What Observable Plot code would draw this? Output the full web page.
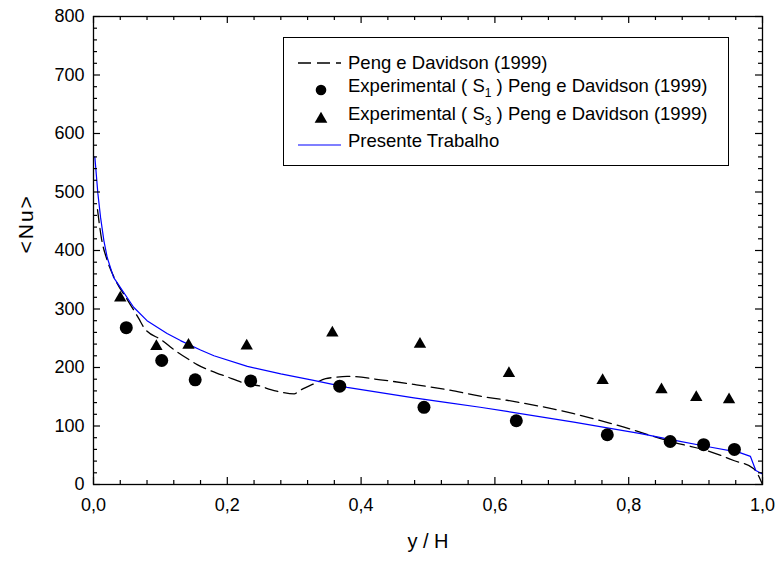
<!DOCTYPE html>
<html><head><meta charset="utf-8">
<script src="https://cdn.jsdelivr.net/npm/d3@7"></script>
<script src="https://cdn.jsdelivr.net/npm/@observablehq/plot@0.6"></script>
<style>
body{margin:0;background:#fff;}
#wrap{position:relative;width:778px;height:563px;font-family:"Liberation Sans",Arial,sans-serif;}
#legend{position:absolute;left:283px;top:37px;width:446px;height:129px;border:1px solid #000;background:#fff;box-sizing:border-box;}
#legend svg{position:absolute;left:0;top:0;}
.item{position:absolute;left:64px;font-size:18.5px;white-space:nowrap;color:#000;line-height:1;}
.item sub{font-size:12px;vertical-align:-5px;line-height:0;}
</style>
</head><body>
<div id="wrap"></div>
<script>
// Experimental S1 (circles)
const s1X = [0.049,0.102,0.152,0.235,0.368,0.494,0.632,0.768,0.862,0.912,0.958];
const s1Y = [268,212,179,177,168,132,109,85,73.5,68,60];
// Experimental S3 (triangles)
const s3X = [0.040,0.094,0.142,0.229,0.357,0.488,0.621,0.761,0.849,0.901,0.950];
const s3Y = [319,236,238,237,259,240,190,178,162,149,145];
// Peng e Davidson (1999) dashed
const pengX = [0.006,0.012,0.02,0.033,0.05,0.068,0.075,0.103,0.115,0.142,0.155,0.185,0.195,0.23,0.25,0.265,0.28,0.30,0.309,0.329,0.347,0.359,0.379,0.429,0.479,0.529,0.578,0.618,0.718,0.793,0.867,0.917,0.957,0.987,1.0];
const pengY = [470,420,385,349,317,283,269,246,235,214,205,190,186,172,168,162,158,155,161,172,181,183,185,179,171,162,151,144,121,98,72,58,41,27,0];
// Presente Trabalho (blue)
const presX = [0.002,0.0065,0.0105,0.0155,0.0205,0.030,0.060,0.080,0.110,0.130,0.16,0.180,0.230,0.280,0.329,0.379,0.429,0.479,0.529,0.578,0.618,0.718,0.818,0.867,0.917,0.965,0.982,0.990,1.0];
const presY = [560,498,457,417,388,354,303,280,258,246,230,220,202,189,178,166,157,148,140,132,125,106.5,87,76,65,55,48,24,18];
// ticks
const xMajor = [0,0.2,0.4,0.6,0.8,1.0];
const xMinor = [0.04,0.08,0.12,0.16,0.24,0.28,0.32,0.36,0.44,0.48,0.52,0.56,0.64,0.68,0.72,0.76,0.84,0.88,0.92,0.96];
const yMajor = [0,100,200,300,400,500,600,700,800];
const yMinor = d3.range(0,801,20).filter(v => v % 100 !== 0);

const s1 = s1X.map((x,i)=>({x, y:s1Y[i]}));
const s3 = s3X.map((x,i)=>({x, y:s3Y[i]}));
const peng = pengX.map((x,i)=>({x, y:pengY[i]}));
const pres = presX.map((x,i)=>({x, y:presY[i]}));

const fmt = d => d.toFixed(1).replace(".", ",");

const W = 778, H = 563, ML = 93, MR = 16, MT = 16, MB = 79;
const FW = W - ML - MR, FH = H - MT - MB;
const major = 7, minor = 4;
const tks = {stroke:"#000", strokeWidth:1.2};

const chart = Plot.plot({
  width: W, height: H,
  marginLeft: ML, marginRight: MR, marginTop: MT, marginBottom: MB,
  style: {fontFamily: '"Liberation Sans", Arial, sans-serif', fontSize: "18px", color: "#000", background: "#fff"},
  x: {domain: [0,1]},
  y: {domain: [0,800]},
  marks: [
    Plot.line(peng, {x:"x", y:"y", stroke:"#000", strokeWidth:1.3, strokeDasharray:"13,6", curve:"monotone-x"}),
    Plot.line(pres, {x:"x", y:"y", stroke:"#0000ff", strokeWidth:1.2}),
    Plot.dot(s1, {x:"x", y:"y", r:6.5, fill:"#000", stroke:"none"}),
    Plot.dot(s3, {x:"x", y:"y", r:4.6, symbol:"triangle", fill:"#000", stroke:"none"}),
    // inward ticks
    Plot.tickX(xMajor, {x:d=>d, insetTop:FH-major, ...tks}),
    Plot.tickX(xMinor, {x:d=>d, insetTop:FH-minor, ...tks}),
    Plot.tickX(xMajor, {x:d=>d, insetBottom:FH-major, ...tks}),
    Plot.tickX(xMinor, {x:d=>d, insetBottom:FH-minor, ...tks}),
    Plot.tickY(yMajor, {y:d=>d, insetRight:FW-major, ...tks}),
    Plot.tickY(yMinor, {y:d=>d, insetRight:FW-minor, ...tks}),
    Plot.tickY(yMajor, {y:d=>d, insetLeft:FW-major, ...tks}),
    Plot.tickY(yMinor, {y:d=>d, insetLeft:FW-minor, ...tks}),
    Plot.frame({stroke:"#000", strokeWidth:1.3}),
    // labels
    Plot.axisX({anchor:"bottom", ticks:xMajor, tickSize:0, tickPadding:14, tickFormat:fmt, label:null, fontSize:18}),
    Plot.axisY({anchor:"left", ticks:yMajor, tickSize:0, tickPadding:9, tickFormat:d=>String(d), label:null, fontSize:18}),
    // axis titles
    Plot.text(["y / H"], {frameAnchor:"bottom", dy:63, fontSize:20, fill:"#000"}),
    Plot.text(["<Nu>"], {frameAnchor:"left", rotate:-90, dx:-67, dy:3, fontSize:21, fill:"#000"})
  ]
});
const wrap = document.getElementById("wrap");
wrap.appendChild(chart);
chart.querySelectorAll("text").forEach(t => { if (t.textContent === "<Nu>") t.style.letterSpacing = "2px"; });

// legend
const lg = document.createElement("div");
lg.id = "legend";
lg.innerHTML = `
<svg width="446" height="129">
  <line x1="14" x2="57" y1="25" y2="25" stroke="#000" stroke-width="1.3" stroke-dasharray="13,6"/>
  <circle cx="37" cy="52" r="5.3" fill="#000"/>
  <path d="${d3.symbol(d3.symbolTriangle, 70)()}" transform="translate(37,81)" fill="#000"/>
  <line x1="14" x2="57" y1="107" y2="107" stroke="#0000ff" stroke-width="1.2"/>
</svg>
<div class="item" style="top:16px">Peng e Davidson (1999)</div>
<div class="item" style="top:39px">Experimental ( S<sub>1</sub> ) Peng e Davidson (1999)</div>
<div class="item" style="top:67px">Experimental ( S<sub>3</sub> ) Peng e Davidson (1999)</div>
<div class="item" style="top:94px">Presente Trabalho</div>`;
wrap.appendChild(lg);
</script>
</body></html>
